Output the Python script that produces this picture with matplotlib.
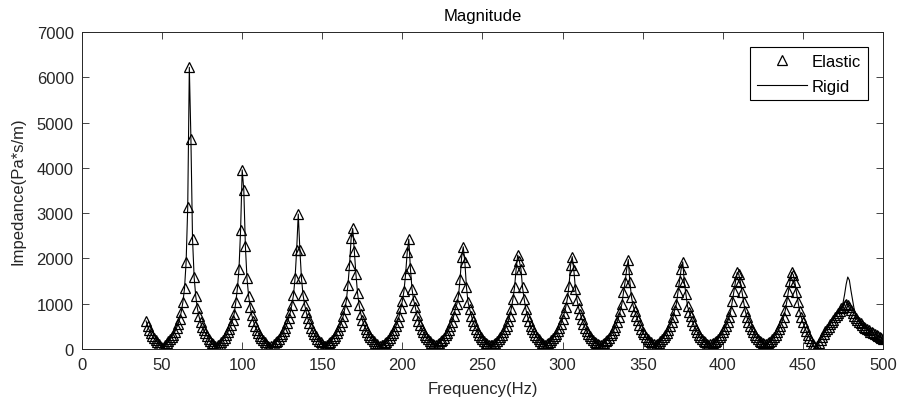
import matplotlib
matplotlib.use('Agg')
import matplotlib.pyplot as plt
import numpy as np

plt.rcParams['font.family'] = ['Liberation Sans', 'DejaVu Sans']

# frequency axis, 1 Hz steps
freq = np.arange(40, 501)

# elastic duct |Z| (Pa*s/m), one block per 50 Hz
elastic_040 = [620, 502, 420, 351, 290, 235, 188, 145, 104, 63,
               32, 46, 85, 124, 166, 211, 262, 320, 384, 460,
               551, 669, 826, 1040, 1340, 1920, 3130, 6220, 4630, 2430,
               1590, 1170, 906, 726, 595, 494, 412, 345, 285, 231,
               183, 141, 101, 60, 53, 83, 120, 161, 205, 254,
               309, 371, 444, 528, 638, 780, 1030, 1340, 1765, 2630]
elastic_100 = [3955, 3515, 2265, 1560, 1175, 934, 748, 614, 509, 429,
               358, 298, 243, 196, 153, 113, 76, 50, 62, 76,
               109, 144, 183, 227, 278, 335, 399, 475, 567, 675,
               810, 980, 1190, 1566, 2190, 2980, 2190, 1566, 1190, 980,
               810, 675, 567, 475, 399, 335, 278, 227, 183, 144]
elastic_150 = [109, 76, 62, 89, 122, 158, 198, 243, 295, 354,
               421, 500, 598, 722, 885, 1066, 1412, 1853, 2441, 2662,
               2169, 1655, 1235, 967, 784, 643, 536, 451, 380, 318,
               263, 215, 173, 135, 102, 76, 69, 78, 97, 128,
               164, 204, 249, 302, 361, 429, 508, 606, 730, 896]
elastic_200 = [1066, 1287, 1655, 2133, 2427, 1780, 1330, 1080, 936, 760,
               629, 526, 444, 374, 313, 259, 213, 172, 135, 103,
               81, 84, 102, 132, 167, 206, 251, 303, 361, 429,
               507, 604, 726, 886, 990, 1176, 1544, 2037, 2257, 1912,
               1361, 1030, 880, 740, 626, 524, 443, 374, 314, 261]
elastic_250 = [215, 175, 139, 107, 87, 87, 91, 109, 139, 174,
               213, 258, 310, 368, 435, 514, 611, 733, 893, 1103,
               1361, 1765, 2074, 1948, 1765, 1361, 1103, 893, 733, 611,
               514, 435, 368, 310, 258, 213, 174, 139, 109, 91,
               102, 129, 159, 195, 236, 285, 339, 401, 473, 559]
elastic_300 = [666, 790, 930, 1120, 1400, 1850, 2040, 1750, 1330, 1080,
               910, 780, 666, 559, 473, 401, 339, 285, 236, 195,
               159, 129, 102, 93, 97, 111, 138, 170, 207, 251,
               301, 357, 421, 497, 588, 702, 849, 993, 1250, 1480,
               1760, 1975, 1480, 1150, 960, 840, 740, 630, 531, 450]
elastic_350 = [382, 323, 270, 224, 185, 150, 121, 100, 97, 113,
               140, 174, 211, 255, 306, 363, 428, 505, 598, 714,
               865, 993, 1250, 1507, 1765, 1926, 1471, 1213, 940, 820,
               730, 619, 522, 442, 375, 317, 265, 219, 181, 146,
               118, 99, 100, 112, 127, 153, 185, 222, 265, 315]
elastic_400 = [371, 435, 510, 601, 713, 846, 1066, 1287, 1507, 1691,
               1650, 1480, 1260, 1040, 840, 713, 601, 510, 435, 371,
               315, 265, 222, 185, 153, 127, 112, 112, 127, 153,
               185, 222, 265, 315, 371, 435, 510, 601, 713, 854,
               1060, 1290, 1507, 1691, 1640, 1470, 1250, 1030, 840, 700]
elastic_450 = [590, 490, 400, 320, 250, 185, 120, 60, 20, 70,
               140, 210, 270, 330, 390, 440, 490, 545, 600, 650,
               700, 750, 800, 850, 895, 935, 965, 985, 970, 930,
               870, 800, 740, 680, 640, 600, 565, 530, 495, 465,
               435, 410, 385, 365, 345, 325, 305, 285, 265, 245,
               225]

# rigid duct follows the elastic one except at the last resonance
rigid_peak_hz = [475, 476, 477, 478, 479, 480, 481, 482]
rigid_peak = [1010, 1200, 1430, 1590, 1520, 1290, 1080, 880]

elastic = np.concatenate([elastic_040, elastic_100, elastic_150, elastic_200,
                          elastic_250, elastic_300, elastic_350, elastic_400,
                          elastic_450]).astype(float)
rigid = elastic.copy()
rigid[np.searchsorted(freq, rigid_peak_hz)] = rigid_peak

grey = '#262626'

fig = plt.figure(figsize=(8.98, 4.06), dpi=100)
ax = fig.add_axes([0.0913, 0.1379, 0.892, 0.7808])

ax.plot(freq, elastic, '^', ms=6.6, mfc='none', mec='k', mew=0.9,
        label='Elastic')
ax.plot(freq, rigid, '-', color='k', lw=0.8, label='Rigid')

ax.set_xlim(0, 500)
ax.set_ylim(0, 7000)
ax.set_xticks(np.arange(0, 501, 50))
ax.set_yticks(np.arange(0, 7001, 1000))

ax.tick_params(direction='in', length=5, width=0.6, top=True, right=True,
               colors=grey, labelsize=12, pad=6)
for s in ax.spines.values():
    s.set_color(grey)
    s.set_linewidth(0.7)

ax.set_title('Magnitude', fontsize=12, color='k', pad=9)
ax.set_xlabel('Frequency(Hz)', fontsize=12, color=grey, labelpad=6)
ax.set_ylabel('Impedance(Pa*s/m)', fontsize=12, color=grey, labelpad=8)

leg = ax.legend(loc='upper right', fontsize=12, frameon=True, fancybox=False,
                edgecolor='k', framealpha=1, borderaxespad=0.9,
                handlelength=3.0, handletextpad=0.3, borderpad=0.4,
                labelspacing=0.6)
leg.get_frame().set_linewidth(0.8)

fig.savefig('out.png', dpi=100)
